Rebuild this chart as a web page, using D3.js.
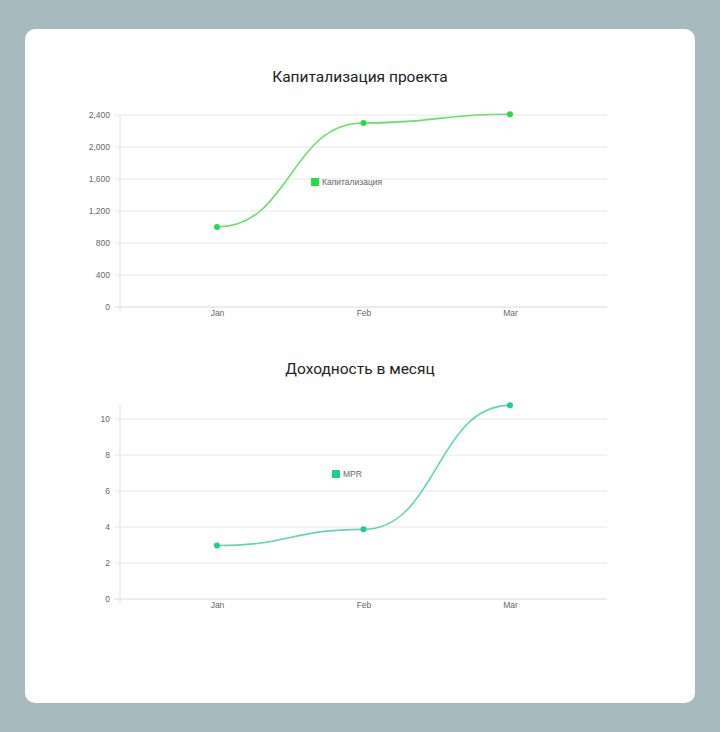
<!DOCTYPE html>
<html><head><meta charset="utf-8">
<script src="https://cdn.jsdelivr.net/npm/d3@7/dist/d3.min.js"></script>
<style>
html,body{margin:0;padding:0;background:#a6b9bf;}
svg{display:block;}
</style></head>
<body><svg id="c" width="720" height="732"></svg>
<script>
const months = ["Jan","Feb","Mar"];
const capValues = [1000, 2300, 2410];
const capTicks = [0,400,800,1200,1600,2000,2400];
const mprValues = [2.97, 3.87, 10.76];
const mprTicks = [0,2,4,6,8,10];

const svg = d3.select("#c");
svg.append("rect").attr("x",25).attr("y",29).attr("width",670).attr("height",674)
  .attr("rx",10).attr("fill","#ffffff");

function chart(opts){
  const g = svg.append("g");
  const x = d3.scalePoint().domain(months).range([120,607]).padding(0.662);
  const y = d3.scaleLinear().domain(opts.domain).range([opts.bottom, opts.top]);
  g.append("text").attr("x",360).attr("y",opts.titleY).attr("text-anchor","middle")
    .attr("font-family","Roboto, 'Noto Sans', sans-serif").attr("font-size",15.5)
    .attr("fill","#222").text(opts.title);
  g.selectAll(".grid").data(opts.ticks).join("line")
    .attr("x1",114).attr("x2",607).attr("y1",d=>y(d)).attr("y2",d=>y(d))
    .attr("stroke",d=>d===0?"#d8d8d8":"#e8e8e8").attr("stroke-width",1);
  g.append("line").attr("x1",120).attr("x2",120).attr("y1",opts.top).attr("y2",opts.bottom+4)
    .attr("stroke","#e0e0e0");
  const ya = d3.axisLeft(y).tickValues(opts.ticks).tickSize(0).tickPadding(10)
    .tickFormat(opts.fmt);
  const ay = g.append("g").attr("transform","translate(120,0)").call(ya);
  ay.select(".domain").remove();
  ay.selectAll("text").attr("font-family","'Liberation Sans', Arial, sans-serif")
    .attr("font-size",8.5).attr("fill","#666");
  const xa = d3.axisBottom(x).tickSize(0).tickPadding(3);
  const ax = g.append("g").attr("transform",`translate(0,${opts.bottom})`).call(xa);
  ax.select(".domain").remove();
  ax.selectAll("text").attr("font-family","'Liberation Sans', Arial, sans-serif")
    .attr("font-size",8.5).attr("fill","#666");
  const pts = months.map((m,i)=>[x(m), y(opts.values[i])]);
  g.append("path").attr("d", d3.line().curve(d3.curveBumpX)(pts))
    .attr("fill","none").attr("stroke",opts.line).attr("stroke-width",1.6);
  g.selectAll(".pt").data(pts).join("circle").attr("cx",d=>d[0]).attr("cy",d=>d[1])
    .attr("r",3).attr("fill",opts.point);
  g.append("rect").attr("x",opts.legX).attr("y",opts.legY-4).attr("width",8).attr("height",8)
    .attr("fill",opts.point);
  g.append("text").attr("x",opts.legX+11).attr("y",opts.legY+3)
    .attr("font-family","'Liberation Sans', Arial, sans-serif").attr("font-size",8.5)
    .attr("fill","#666").text(opts.label);
}

chart({title:"Капитализация проекта", titleY:82, top:115, bottom:307, domain:[0,2400],
  ticks:capTicks, values:capValues, fmt:d3.format(","), line:"#6ade6a", point:"#22dd44",
  legX:311, legY:182, label:"Капитализация"});
chart({title:"Доходность в месяц", titleY:374, top:405, bottom:599, domain:[0,10.78],
  ticks:mprTicks, values:mprValues, fmt:d3.format("d"), line:"#62d4b4", point:"#20cc96",
  legX:332, legY:474, label:"MPR"});
</script></body></html>
